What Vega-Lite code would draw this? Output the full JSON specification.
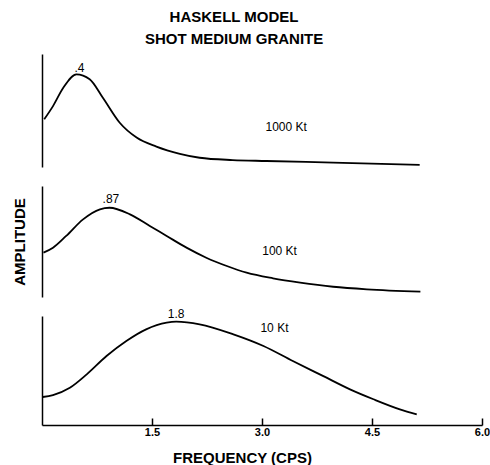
{
  "$schema": "https://vega.github.io/schema/vega-lite/v6.json",
  "padding": {"left": 12, "top": 10, "right": 0, "bottom": 0},
  "background": "white",
  "spacing": 19,
  "bounds": "flush",
  "title": {
    "text": ["HASKELL MODEL", "SHOT MEDIUM GRANITE"],
    "fontSize": 15,
    "fontWeight": "bold",
    "font": "Liberation Sans",
    "lineHeight": 22,
    "color": "black",
    "anchor": "middle",
    "dx": -17,
    "offset": 7
  },
  "config": {
    "view": {"stroke": null},
    "font": "Liberation Sans",
    "axis": {"domainColor": "black", "domainWidth": 1.5, "grid": false, "labelColor": "black", "titleColor": "black", "tickColor": "black"}
  },
  "datasets": {
    "curves": [
      {"panel": "1000 Kt", "freq": 0.03, "amp": 0.206},
      {"panel": "1000 Kt", "freq": 0.15, "amp": 0.263},
      {"panel": "1000 Kt", "freq": 0.29, "amp": 0.342},
      {"panel": "1000 Kt", "freq": 0.47, "amp": 0.400},
      {"panel": "1000 Kt", "freq": 0.65, "amp": 0.379},
      {"panel": "1000 Kt", "freq": 0.83, "amp": 0.299},
      {"panel": "1000 Kt", "freq": 1.06, "amp": 0.191},
      {"panel": "1000 Kt", "freq": 1.29, "amp": 0.127},
      {"panel": "1000 Kt", "freq": 1.56, "amp": 0.088},
      {"panel": "1000 Kt", "freq": 1.88, "amp": 0.057},
      {"panel": "1000 Kt", "freq": 2.15, "amp": 0.040},
      {"panel": "1000 Kt", "freq": 2.60, "amp": 0.030},
      {"panel": "1000 Kt", "freq": 3.06, "amp": 0.026},
      {"panel": "1000 Kt", "freq": 3.97, "amp": 0.019},
      {"panel": "1000 Kt", "freq": 5.15, "amp": 0.009},
      {"panel": "100 Kt", "freq": 0.02, "amp": 0.432},
      {"panel": "100 Kt", "freq": 0.15, "amp": 0.480},
      {"panel": "100 Kt", "freq": 0.33, "amp": 0.595},
      {"panel": "100 Kt", "freq": 0.56, "amp": 0.757},
      {"panel": "100 Kt", "freq": 0.79, "amp": 0.855},
      {"panel": "100 Kt", "freq": 0.92, "amp": 0.870},
      {"panel": "100 Kt", "freq": 1.20, "amp": 0.806},
      {"panel": "100 Kt", "freq": 1.47, "amp": 0.693},
      {"panel": "100 Kt", "freq": 1.70, "amp": 0.595},
      {"panel": "100 Kt", "freq": 1.97, "amp": 0.481},
      {"panel": "100 Kt", "freq": 2.24, "amp": 0.383},
      {"panel": "100 Kt", "freq": 2.52, "amp": 0.302},
      {"panel": "100 Kt", "freq": 2.79, "amp": 0.237},
      {"panel": "100 Kt", "freq": 3.15, "amp": 0.182},
      {"panel": "100 Kt", "freq": 3.52, "amp": 0.140},
      {"panel": "100 Kt", "freq": 3.97, "amp": 0.100},
      {"panel": "100 Kt", "freq": 4.43, "amp": 0.075},
      {"panel": "100 Kt", "freq": 5.16, "amp": 0.052},
      {"panel": "10 Kt", "freq": 0.01, "amp": 0.488},
      {"panel": "10 Kt", "freq": 0.15, "amp": 0.522},
      {"panel": "10 Kt", "freq": 0.38, "amp": 0.649},
      {"panel": "10 Kt", "freq": 0.61, "amp": 0.883},
      {"panel": "10 Kt", "freq": 0.88, "amp": 1.202},
      {"panel": "10 Kt", "freq": 1.15, "amp": 1.464},
      {"panel": "10 Kt", "freq": 1.42, "amp": 1.667},
      {"panel": "10 Kt", "freq": 1.70, "amp": 1.783},
      {"panel": "10 Kt", "freq": 1.83, "amp": 1.800},
      {"panel": "10 Kt", "freq": 2.15, "amp": 1.755},
      {"panel": "10 Kt", "freq": 2.61, "amp": 1.580},
      {"panel": "10 Kt", "freq": 3.02, "amp": 1.377},
      {"panel": "10 Kt", "freq": 3.42, "amp": 1.115},
      {"panel": "10 Kt", "freq": 3.83, "amp": 0.855},
      {"panel": "10 Kt", "freq": 4.20, "amp": 0.621},
      {"panel": "10 Kt", "freq": 4.52, "amp": 0.448},
      {"panel": "10 Kt", "freq": 4.88, "amp": 0.273},
      {"panel": "10 Kt", "freq": 5.11, "amp": 0.186}
    ],
    "labels": [
      {"panel": "1000 Kt", "freq": 0.51, "amp": 0.429, "label": ".4"},
      {"panel": "1000 Kt", "freq": 3.33, "amp": 0.173, "label": "1000 Kt"},
      {"panel": "100 Kt", "freq": 0.94, "amp": 0.952, "label": ".87"},
      {"panel": "100 Kt", "freq": 3.24, "amp": 0.448, "label": "100 Kt"},
      {"panel": "10 Kt", "freq": 1.83, "amp": 1.929, "label": "1.8"},
      {"panel": "10 Kt", "freq": 3.17, "amp": 1.685, "label": "10 Kt"}
    ]
  },
  "vconcat": [
    {
      "width": 440,
      "height": 113,
      "layer": [
        {
          "data": {"name": "curves"},
          "transform": [{"filter": "datum.panel === '1000 Kt'"}],
          "mark": {"type": "line", "color": "black", "strokeWidth": 1.8, "interpolate": "monotone"},
          "encoding": {
            "x": {"field": "freq", "type": "quantitative", "scale": {"domain": [0, 6], "nice": false}, "axis": null},
            "y": {"field": "amp", "type": "quantitative", "scale": {"domain": [0, 0.488], "nice": false, "zero": false}, "axis": {"title": null, "labels": false, "ticks": false}}
          }
        },
        {
          "data": {"name": "labels"},
          "transform": [{"filter": "datum.panel === '1000 Kt'"}],
          "mark": {"type": "text", "fontSize": 12, "color": "black", "align": "center", "baseline": "middle"},
          "encoding": {
            "x": {"field": "freq", "type": "quantitative", "scale": {"domain": [0, 6], "nice": false}},
            "y": {"field": "amp", "type": "quantitative", "scale": {"domain": [0, 0.488], "nice": false, "zero": false}},
            "text": {"field": "label"}
          }
        }
      ]
    },
    {
      "width": 440,
      "height": 111,
      "layer": [
        {
          "data": {"name": "curves"},
          "transform": [{"filter": "datum.panel === '100 Kt'"}],
          "mark": {"type": "line", "color": "black", "strokeWidth": 1.8, "interpolate": "monotone"},
          "encoding": {
            "x": {"field": "freq", "type": "quantitative", "scale": {"domain": [0, 6], "nice": false}, "axis": null},
            "y": {"field": "amp", "type": "quantitative", "scale": {"domain": [0, 1.082], "nice": false, "zero": false}, "axis": {"title": "AMPLITUDE", "labels": false, "ticks": false, "titleFontSize": 15, "titleFontWeight": "bold", "titlePadding": 14.5}}
          }
        },
        {
          "data": {"name": "labels"},
          "transform": [{"filter": "datum.panel === '100 Kt'"}],
          "mark": {"type": "text", "fontSize": 12, "color": "black", "align": "center", "baseline": "middle"},
          "encoding": {
            "x": {"field": "freq", "type": "quantitative", "scale": {"domain": [0, 6], "nice": false}},
            "y": {"field": "amp", "type": "quantitative", "scale": {"domain": [0, 1.082], "nice": false, "zero": false}},
            "text": {"field": "label"}
          }
        }
      ]
    },
    {
      "width": 440,
      "height": 109,
      "layer": [
        {
          "data": {"name": "curves"},
          "transform": [{"filter": "datum.panel === '10 Kt'"}],
          "mark": {"type": "line", "color": "black", "strokeWidth": 1.8, "interpolate": "monotone"},
          "encoding": {
            "x": {"field": "freq", "type": "quantitative", "scale": {"domain": [0, 6], "nice": false},
              "axis": {"title": "FREQUENCY (CPS)", "values": [1.5, 3, 4.5, 6], "format": ".1f", "tickSize": -7, "tickWidth": 1.5, "labelPadding": 8, "labelFlush": false, "labelFontSize": 11, "labelFontWeight": "bold", "titleFontSize": 15, "titleFontWeight": "bold", "titlePadding": 13, "titleX": 200}},
            "y": {"field": "amp", "type": "quantitative", "scale": {"domain": [0, 1.899], "nice": false, "zero": false}, "axis": {"title": null, "labels": false, "ticks": false}}
          }
        },
        {
          "data": {"name": "labels"},
          "transform": [{"filter": "datum.panel === '10 Kt'"}],
          "mark": {"type": "text", "fontSize": 12, "color": "black", "align": "center", "baseline": "middle"},
          "encoding": {
            "x": {"field": "freq", "type": "quantitative", "scale": {"domain": [0, 6], "nice": false}},
            "y": {"field": "amp", "type": "quantitative", "scale": {"domain": [0, 1.899], "nice": false, "zero": false}},
            "text": {"field": "label"}
          }
        }
      ]
    }
  ]
}
